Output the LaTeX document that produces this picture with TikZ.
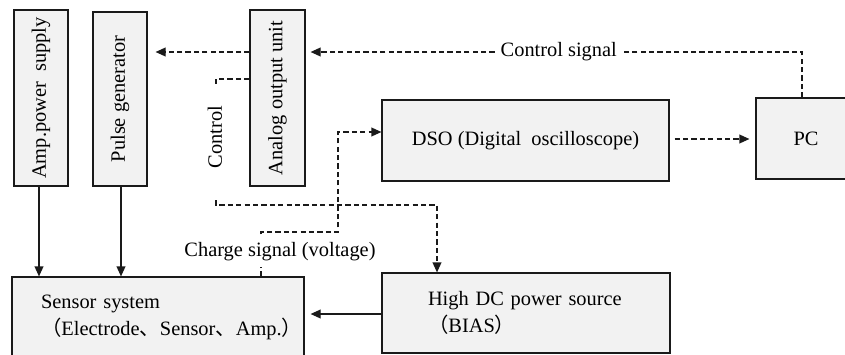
\documentclass[tikz,border=0pt]{standalone}
\usepackage{fontspec}
\setmainfont{Liberation Serif}
\newfontfamily\cjk{Noto Sans CJK JP}
\usetikzlibrary{arrows.meta}
\definecolor{boxfill}{HTML}{F2F2F2}
\definecolor{edge}{HTML}{1A1A1A}
\newcommand{\cj}[1]{{\cjk #1}}

\begin{document}
\begin{tikzpicture}[x=0.5pt,y=-0.5pt,
  font=\fontsize{10.2pt}{13.5pt}\selectfont,
  box/.style={draw=edge, fill=boxfill, line width=0.6pt, inner sep=0pt},
  link/.style={draw=edge, line width=0.6pt, -{Triangle[length=5pt,width=4.4pt]}},
  dlink/.style={link, dash pattern=on 2.6pt off 1.6pt},
  dline/.style={draw=edge, line width=0.6pt, dash pattern=on 2.6pt off 1.6pt},
  lbl/.style={fill=white, inner xsep=2pt, inner ysep=3pt}]
\useasboundingbox (0,0) rectangle (845,354);
\clip (0,0) rectangle (845,354);

% upper row: vertical units
\node[box, minimum width=27pt, minimum height=88pt] (amp) at (41,98)
  {\rotatebox{90}{Amp.power\ \ supply}};
\node[box, minimum width=27pt, minimum height=87pt] (pul) at (120,99)
  {\rotatebox{90}{Pulse generator}};
\node[box, minimum width=27.5pt, minimum height=88pt] (ana) at (277.5,98)
  {\rotatebox{90}{Analog output unit}};

% measurement and PC
\node[box, minimum width=143.5pt, minimum height=40.5pt] (dso) at (525.5,140.5)
  {DSO (Digital\ \ oscilloscope)};
\node[box, minimum width=50pt, minimum height=40.5pt] (pc) at (806,138.5) {PC};

% lower row
\node[box, minimum width=146pt, minimum height=40.5pt, text width=117pt, align=left]
  (sen) at (158,317.5)
  {Sensor system\\\cj{（}Electrode\cj{、}Sensor\cj{、}Amp.\cj{）}};
\node[box, minimum width=144pt, minimum height=40pt, text width=98pt, align=left]
  (hdc) at (526,313)
  {High\ DC power source\\\cj{（}BIAS\cj{）}};

% supplies into the sensor system
\draw[link] (amp.south -| 39,0) -- (39,0 |- sen.north);
\draw[link] (pul.south -| 121,0) -- (121,0 |- sen.north);

% PC -> analog output unit -> pulse generator
\draw[dlink, shorten >=2.5pt] (pc.north -| 802,0) |- (ana.east |- 0,52)
  node[lbl, pos=0.745] (cs) {Control signal};
\draw[dlink, shorten >=4pt] (ana.west |- 0,52) -- (pul.east |- 0,52);

% control line to the high-voltage source
\coordinate (ctlA) at (216,84);
\coordinate (ctlB) at (216,200);
\draw[dline] (ana.west |- 0,79) -| (ctlA);
\draw[dlink] (ctlB) |- (437,205) -- (437,0 |- hdc.north);
\node[rotate=90] (ctl) at (215,137) {Control};

% charge signal to the oscilloscope
\draw[dlink] (261,0 |- sen.north) -- (261,232) -| (338,132) -- (dso.west |- 0,132);
\node[lbl] (chg) at (280,252) {Charge signal (voltage)};

% oscilloscope data to PC, bias into sensor
\draw[dlink, shorten <=2.5pt, shorten >=3pt] (dso.east |- 0,139) -- (pc.west |- 0,139);
\draw[link, shorten >=3pt] (hdc.west |- 0,314) -- (sen.east |- 0,314);
\end{tikzpicture}
\end{document}
